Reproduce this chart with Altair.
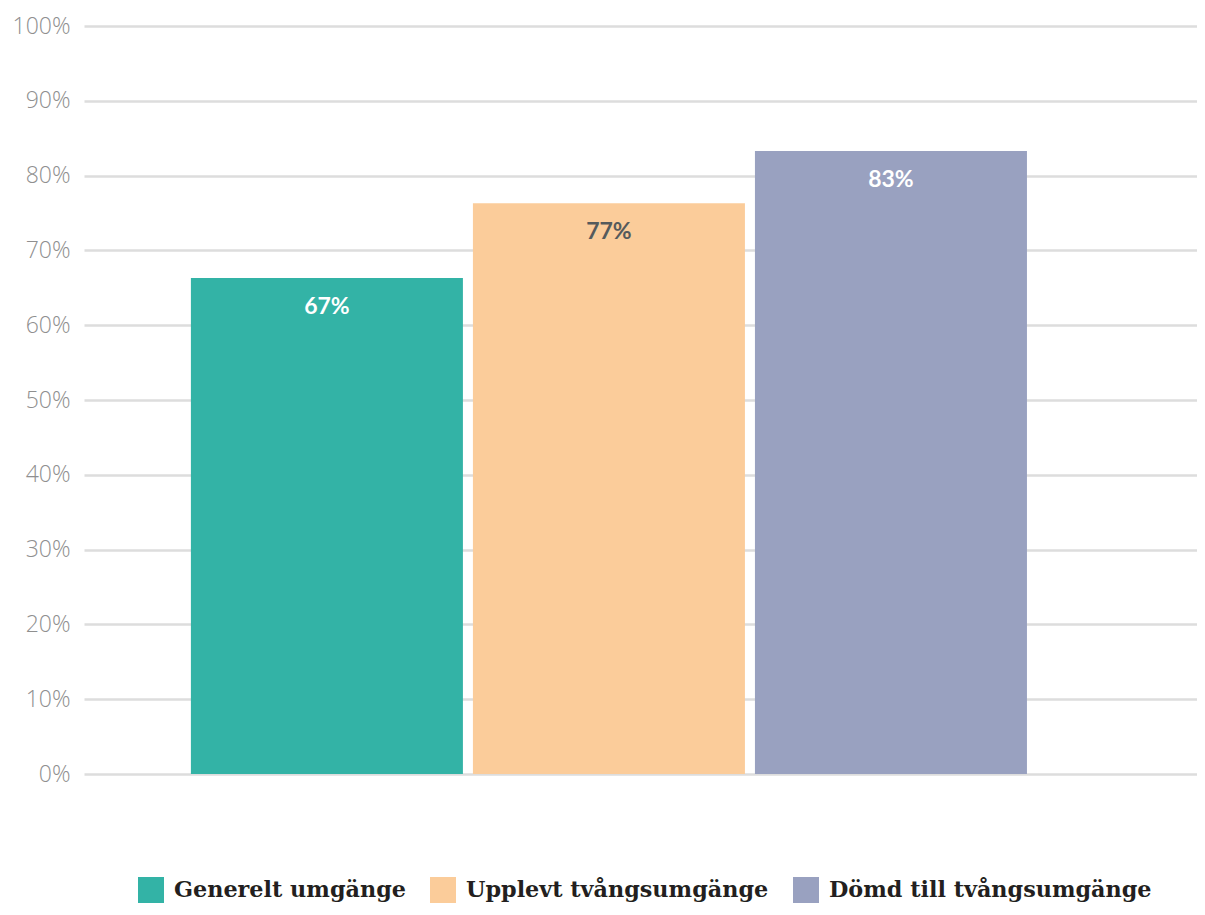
import altair as alt
import pandas as pd

series = ["Generelt umgänge", "Upplevt tvångsumgänge", "Dömd till tvångsumgänge"]
values = [66.3, 76.3, 83.3]
labels = ["67%", "77%", "83%"]
colors = ["#33b3a6", "#fbcc9a", "#99a1c0"]
label_colors = ["#ffffff", "#555a5c", "#ffffff"]
y_ticks = [0, 10, 20, 30, 40, 50, 60, 70, 80, 90, 100]

df = pd.DataFrame({"serie": series, "value": values, "label": labels, "lc": label_colors})

x = alt.X("serie:N", sort=series, axis=None,
          scale=alt.Scale(paddingInner=0.0355, paddingOuter=0.491, align=0.386))

bars = alt.Chart(df).mark_bar().encode(
    x=x,
    y=alt.Y("value:Q", scale=alt.Scale(domain=[0, 100], nice=False),
            axis=alt.Axis(values=y_ticks, labelExpr="datum.value + '%'", title=None,
                          domain=False, ticks=False, labelPadding=14,
                          labelFont="Open Sans", labelFontWeight=300, labelFontSize=23,
                          labelColor="#8f8f8f", gridColor="#dddddd", gridWidth=2.5)),
    color=alt.Color("serie:N", sort=series,
                    scale=alt.Scale(domain=series, range=colors),
                    legend=alt.Legend(title=None, orient="none", direction="horizontal",
                                      legendX=54, legendY=851,
                                      symbolType="square", symbolSize=676,
                                      symbolStrokeWidth=0, symbolOpacity=1,
                                      labelFont="DejaVu Serif", labelFontWeight="bold",
                                      labelFontSize=22.3, labelColor="#231f20",
                                      labelOffset=10, columnPadding=24,
                                      labelLimit=400)),
)

text = alt.Chart(df).mark_text(baseline="middle", dy=29, font="Lato", fontWeight="bold",
                               fontSize=23).encode(
    x=x,
    y=alt.Y("value:Q"),
    text="label:N",
    color=alt.Color("lc:N", scale=None),
)

chart = (bars + text).properties(
    width=1113, height=748,
    autosize=alt.AutoSizeParams(type="none"),
    padding={"left": 76, "top": 18, "right": 0, "bottom": 133},
).configure_view(stroke=None)

chart.save("out.html", embed_options={"renderer": "svg", "actions": False})
